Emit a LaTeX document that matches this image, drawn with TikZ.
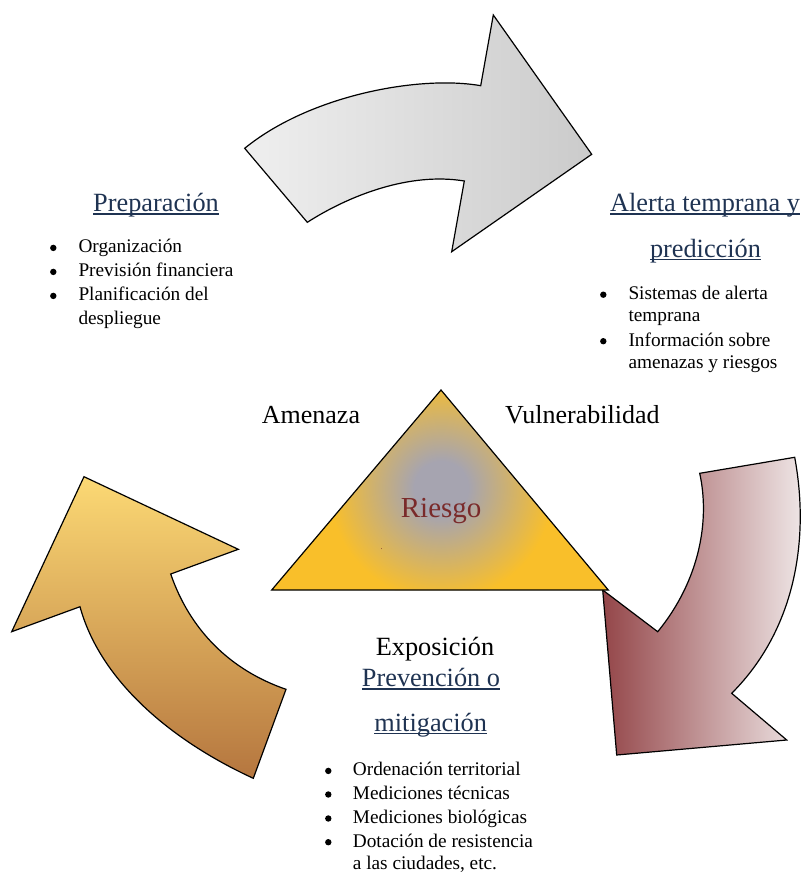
\documentclass[tikz,border=0pt]{standalone}
\usepackage{fontspec}
\setmainfont{Liberation Serif}
\definecolor{navy}{HTML}{1F3352}
\definecolor{riskred}{HTML}{7A2A2A}
\definecolor{tyellow}{HTML}{F9BF2A}
\definecolor{tgray}{HTML}{A6A4B0}
\definecolor{grayL}{HTML}{EFEFEF}
\definecolor{grayD}{HTML}{CBCBCB}
\definecolor{redD}{HTML}{944649}
\definecolor{redL}{HTML}{F2ECEC}
\definecolor{yelL}{HTML}{FCD974}
\definecolor{yelD}{HTML}{B5763F}
\pgfdeclareradialshading{riskshade}{\pgfpoint{0bp}{0bp}}{color(0bp)=(tgray); color(6bp)=(tgray); color(25bp)=(tyellow); color(50bp)=(tyellow)}
\newsavebox\ulbox
\newcommand{\ulh}[1]{\sbox\ulbox{#1}\rlap{\rule[-3pt]{\wd\ulbox}{1.5pt}}\usebox\ulbox}
\begin{document}
\begin{tikzpicture}[x=1pt,y=-1pt,
  arrowshape/.style={draw=black,line width=1.2pt,line join=miter},
  hdtext/.style={font=\fontsize{26.3}{30}\selectfont,text=navy,anchor=base,inner sep=0pt},
  lbl/.style={font=\fontsize{26}{30}\selectfont,anchor=base west,inner sep=0pt},
  itemtxt/.style={font=\fontsize{19.3}{22}\selectfont,anchor=base west,inner sep=0pt},
  bul/.style={circle,fill=black,inner sep=0pt,minimum size=6.4pt,yshift=4.8pt}]
\useasboundingbox (0,0) rectangle (803,873);

% top arrow
\shadedraw[arrowshape,left color=grayL,right color=grayD]
  (244.7,148.3) -- (307.3,222.3) .. controls (350,195) and (410,172) .. (464.3,181)
  -- (451.7,251.7) -- (591.7,154.3) -- (493.3,15) -- (480.7,85.7)
  .. controls (420,75) and (310,95) .. cycle;

% right arrow
\shadedraw[arrowshape,left color=redD,right color=redL]
  (699.7,473.3) -- (794.7,457.3) .. controls (810,540) and (795,630) .. (731.7,693.3)
  -- (786.7,740) -- (616.7,755) -- (602.7,590) -- (657.7,631.7)
  .. controls (700,580) and (710,520) .. cycle;

% left arrow
\shadedraw[arrowshape,top color=yelL,bottom color=yelD]
  (84,476.7) -- (238.3,549.3) -- (170.7,574) .. controls (190,630) and (230,670) .. (286,689.3)
  -- (253.3,778.3) .. controls (170,740) and (100,680) .. (80,606.7)
  -- (11.7,631.7) -- cycle;

% triangle
\begin{scope}
  \clip (441,390) -- (608.3,590) -- (271.7,590) -- cycle;
  \fill[tyellow] (260,380) rectangle (620,600);
  \shade[shading=riskshade] (441,488) circle (112);
\end{scope}
\draw[line width=1.2pt,line join=miter] (441,390) -- (608.3,590) -- (271.7,590) -- cycle;

\node[lbl] (amen) at (261.7,423.3) {Amenaza};
\node[lbl] (vuln) at (505,423.3) {Vulnerabilidad};
\node[lbl,font=\fontsize{29}{32}\selectfont,text=riskred] (riesgo) at (400.7,517) {Riesgo};
\node[anchor=base,inner sep=0pt,font=\fontsize{8}{9}\selectfont,text=riskred] (spot) at (381.7,549.5) {.};

% Preparacion
\node[hdtext] (prep) at (156,211.7) {\ulh{Preparación}};
\node[bul] (pb1) at (53.3,252.7) {};
\node[itemtxt] (pt1) at (78.3,252.7) {Organización};
\node[bul] (pb2) at (53.3,276.7) {};
\node[itemtxt] (pt2) at (78.3,276.7) {Previsión financiera};
\node[bul] (pb3) at (53.3,300.7) {};
\node[itemtxt] (pt3) at (78.3,300.7) {Planificación del};
\node[itemtxt] (pt3b) at (78.3,324) {despliegue};

% Alerta
\node[hdtext] (al1) at (705,211.7) {\ulh{Alerta temprana y}};
\node[hdtext] (al2) at (705.5,257.3) {\ulh{predicción}};
\node[bul] (ab1) at (603.3,299.5) {};
\node[itemtxt] (at1) at (628.3,299.5) {Sistemas de alerta};
\node[itemtxt] (at1b) at (628.3,321) {temprana};
\node[bul] (ab2) at (603.3,346) {};
\node[itemtxt] (at2) at (628.3,346) {Información sobre};
\node[itemtxt] (at2b) at (628.3,368) {amenazas y riesgos};

% Exposicion / Prevencion
\node[hdtext,text=black] (expo) at (435,655) {Exposición};
\node[hdtext] (pv1) at (431,686.7) {\ulh{Prevención o}};
\node[hdtext] (pv2) at (430.7,731) {\ulh{mitigación}};
\node[bul] (mb1) at (328.3,775.7) {};
\node[itemtxt] (mt1) at (352.7,775.7) {Ordenación territorial};
\node[bul] (mb2) at (328.3,799.3) {};
\node[itemtxt] (mt2) at (352.7,799.3) {Mediciones técnicas};
\node[bul] (mb3) at (328.3,823.3) {};
\node[itemtxt] (mt3) at (352.7,823.3) {Mediciones biológicas};
\node[bul] (mb4) at (328.3,847) {};
\node[itemtxt] (mt4) at (352.7,847) {Dotación de resistencia};
\node[itemtxt] (mt4b) at (352.7,869.5) {a las ciudades, etc.};
\end{tikzpicture}
\end{document}
